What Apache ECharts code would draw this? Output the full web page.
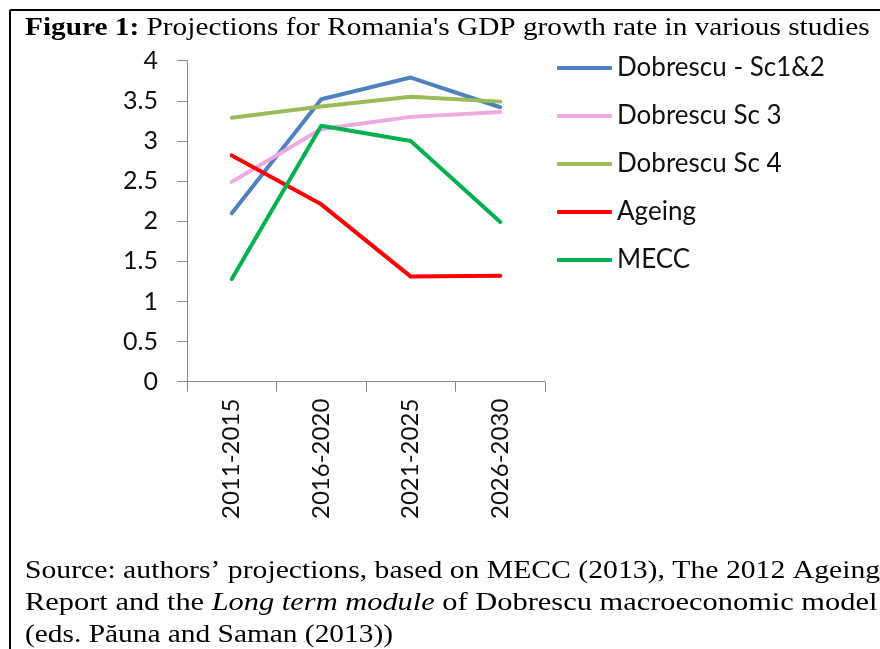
<!DOCTYPE html>
<html><head><meta charset="utf-8">
<script src="https://cdn.jsdelivr.net/npm/echarts@6/dist/echarts.min.js"></script>
<style>html,body{margin:0;padding:0;background:#fff}#c{width:880px;height:649px}</style>
</head><body><div id="c"></div>
<script>
const categories = ['2011-2015','2016-2020','2021-2025','2026-2030'];
const seriesNames = ['Dobrescu - Sc1&2','Dobrescu Sc 3','Dobrescu Sc 4','Ageing','MECC'];
const sc12 = [2.10, 3.52, 3.79, 3.42];
const sc3 = [2.49, 3.15, 3.30, 3.36];
const sc4 = [3.29, 3.43, 3.55, 3.49];
const ageing = [2.82, 2.21, 1.31, 1.32];
const mecc = [1.28, 3.19, 3.00, 1.99];
const colors = ['#4F81BD','#EDA9E0','#9BBB59','#FF0000','#00B050'];

const chart = echarts.init(document.getElementById('c'), null, {renderer:'canvas'});
const values = [sc12, sc3, sc4, ageing, mecc];
const axisFont = 'Lato, "Open Sans", sans-serif';
const serif = '"Liberation Serif", "Times New Roman", serif';
chart.setOption({
  animation:false,
  backgroundColor:'#fff',
  color: colors,
  grid:{left:187, right:335, top:60.7, bottom:267.3, containLabel:false},
  xAxis:{type:'category', data:categories, boundaryGap:true,
    axisLine:{lineStyle:{color:'#868686', width:1}},
    axisTick:{show:true, length:10, inside:false, lineStyle:{color:'#868686'}},
    axisLabel:{rotate:90, margin:17, fontSize:24, color:'#111', fontFamily:axisFont}},
  yAxis:{type:'value', min:0, max:4, interval:0.5,
    axisLine:{show:true, lineStyle:{color:'#868686', width:1}},
    axisTick:{show:true, length:10, lineStyle:{color:'#868686'}},
    splitLine:{show:false},
    axisLabel:{margin:29, fontSize:25, color:'#111', fontFamily:axisFont,
      formatter:v=>String(v)}},
  legend:{orient:'vertical', left:557, top:55, padding:0, itemWidth:55, itemHeight:4, itemGap:22,
    icon:'roundRect',
    textStyle:{fontSize:26, color:'#111', fontFamily:axisFont, lineHeight:24},
    data:seriesNames},
  series: seriesNames.map((n,i)=>({name:n, type:'line', data:values[i], symbol:'none',
    lineStyle:{width:4, color:colors[i], cap:'round', join:'round'}, itemStyle:{color:colors[i]}})),
  graphic:[
    {type:'line', shape:{x1:10, y1:10, x2:880, y2:10}, style:{stroke:'#000', lineWidth:2}},
    {type:'line', shape:{x1:10, y1:10, x2:10, y2:649}, style:{stroke:'#000', lineWidth:2}},
    {type:'text', x:25, y:15, scaleX:1.127, style:{
      text:'{b|Figure 1:} Projections for Romania\'s GDP growth rate in various studies',
      font:'26px ' + serif, fill:'#000',
      rich:{b:{fontWeight:'bold', fontSize:26, fontFamily:serif}}}},
    {type:'text', x:25, y:558, scaleX:1.142, style:{
      text:'Source: authors\u2019 projections, based on MECC (2013), The 2012 Ageing',
      font:'26px ' + serif, fill:'#000'}},
    {type:'text', x:25, y:590, scaleX:1.17, style:{
      text:'Report and the {i|Long term module} of Dobrescu macroeconomic model',
      font:'26px ' + serif, fill:'#000',
      rich:{i:{fontStyle:'italic', fontSize:26, fontFamily:serif}}}},
    {type:'text', x:25, y:622, scaleX:1.13, style:{
      text:'(eds. P\u0103una and Saman (2013))',
      font:'26px ' + serif, fill:'#000'}}
  ]
});
</script></body></html>
